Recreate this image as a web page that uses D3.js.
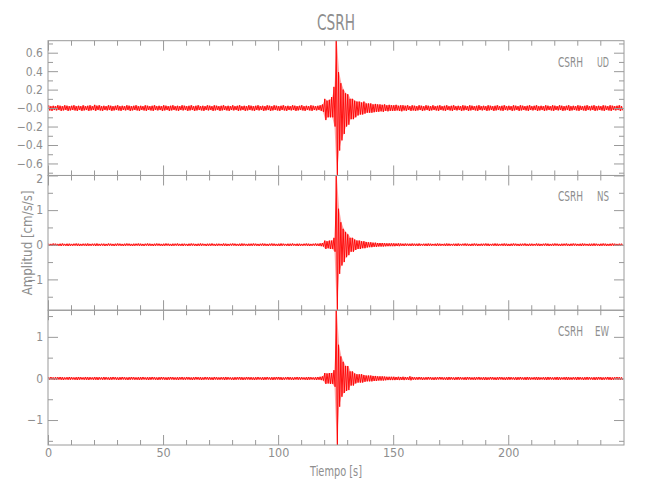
<!DOCTYPE html>
<html><head><meta charset="utf-8">
<script src="https://cdn.jsdelivr.net/npm/d3@7"></script>
<style>
body{margin:0;background:#fff}
text{font-family:'Liberation Sans Narrow','DejaVu Sans Condensed','Liberation Sans',sans-serif;font-stretch:condensed;fill:#8e8e8e}
</style>
</head><body>
<svg id="c" width="650" height="500"></svg>
<script>
// ---------- data (1-second bins starting at t = 0 s; per-bin max / min, cm/s/s) ----------
const station = "CSRH";
const components = ["UD","NS","EW"];

const udHi=[.03,.02,.025,.02,.03,.025,.02,.03,.025,.02,
.025,.03,.02,.025,.02,.03,.02,.025,.03,.02,
.035,.025,.03,.02,.025,.02,.03,.025,.02,.025,
.03,.02,.025,.02,.03,.025,.02,.025,.03,.02,
.025,.02,.03,.025,.02,.025,.03,.02,.025,.02,
.03,.025,.02,.025,.03,.02,.025,.02,.03,.025,
.02,.025,.03,.02,.025,.03,.02,.025,.02,.03,
.025,.02,.03,.025,.02,.025,.03,.02,.025,.02,
.03,.02,.025,.03,.02,.025,.02,.03,.025,.02,
.025,.03,.02,.025,.02,.03,.025,.02,.03,.025,
.02,.025,.03,.02,.025,.02,.03,.025,.02,.025,
.03,.02,.025,.02,.03,.025,.02,.025,.03,.04,
.1,.08,.09,.12,.23,.73,.39,.27,.2,.16,
.15,.1,.1,.08,.07,.07,.06,.07,.05,.05,
.05,.04,.045,.04,.04,.035,.04,.03,.035,.03,
.03,.035,.025,.03,.03,.025,.03,.02,.03,.025,
.02,.03,.025,.02,.03,.025,.02,.03,.02,.025,
.03,.02,.025,.03,.02,.025,.03,.02,.025,.02,
.03,.025,.02,.03,.025,.02,.025,.03,.02,.025,
.02,.03,.025,.02,.025,.03,.02,.025,.03,.02,
.025,.02,.03,.025,.02,.03,.025,.02,.025,.03,
.02,.025,.03,.02,.025,.02,.03,.025,.02,.03,
.025,.02,.03,.025,.02,.025,.03,.02,.025,.02,
.03,.025,.02,.025,.03,.02,.025,.03,.02,.025,
.02,.03,.025,.02,.03,.025,.02,.025,.03,.02];
const udLo=[-.025,-.03,-.02,-.025,-.02,-.03,-.025,-.02,-.03,-.025,
-.02,-.025,-.03,-.02,-.03,-.025,-.02,-.03,-.025,-.02,
-.03,-.02,-.025,-.03,-.02,-.025,-.02,-.03,-.025,-.02,
-.025,-.03,-.02,-.025,-.02,-.03,-.025,-.02,-.025,-.03,
-.02,-.025,-.03,-.02,-.025,-.03,-.02,-.025,-.02,-.03,
-.025,-.02,-.03,-.025,-.02,-.025,-.03,-.02,-.025,-.02,
-.03,-.025,-.02,-.03,-.025,-.02,-.025,-.03,-.02,-.025,
-.02,-.03,-.025,-.02,-.03,-.025,-.02,-.025,-.03,-.02,
-.025,-.02,-.03,-.025,-.02,-.03,-.025,-.02,-.025,-.03,
-.02,-.025,-.02,-.03,-.025,-.02,-.03,-.025,-.02,-.025,
-.03,-.02,-.025,-.03,-.02,-.025,-.02,-.03,-.025,-.02,
-.025,-.03,-.02,-.025,-.03,-.02,-.025,-.02,-.03,-.04,
-.13,-.1,-.1,-.1,-.2,-.73,-.46,-.35,-.28,-.2,
-.18,-.12,-.12,-.1,-.08,-.07,-.07,-.06,-.05,-.05,
-.05,-.045,-.04,-.04,-.035,-.04,-.03,-.035,-.03,-.03,
-.03,-.025,-.03,-.035,-.025,-.03,-.02,-.03,-.025,-.03,
-.025,-.02,-.03,-.025,-.02,-.03,-.025,-.02,-.025,-.03,
-.02,-.025,-.03,-.02,-.025,-.03,-.02,-.025,-.02,-.03,
-.025,-.02,-.03,-.025,-.02,-.025,-.03,-.02,-.025,-.02,
-.03,-.025,-.02,-.03,-.025,-.02,-.025,-.03,-.02,-.025,
-.02,-.03,-.025,-.02,-.03,-.025,-.02,-.025,-.03,-.02,
-.025,-.02,-.03,-.025,-.02,-.03,-.025,-.02,-.025,-.03,
-.02,-.025,-.02,-.03,-.025,-.02,-.03,-.025,-.02,-.025,
-.03,-.02,-.025,-.03,-.02,-.025,-.02,-.03,-.025,-.02,
-.025,-.03,-.02,-.025,-.03,-.02,-.025,-.02,-.03,-.025];

const nsHi=[.03,.025,.035,.03,.025,.03,.035,.025,.03,.03,
.025,.03,.035,.03,.025,.03,.03,.035,.025,.03,
.03,.035,.025,.03,.03,.025,.035,.03,.025,.03,
.035,.03,.025,.03,.035,.03,.025,.03,.03,.035,
.03,.025,.03,.035,.03,.025,.03,.035,.03,.025,
.03,.035,.03,.025,.03,.03,.035,.025,.03,.03,
.025,.03,.035,.03,.025,.03,.035,.03,.025,.03,
.03,.035,.025,.03,.03,.025,.035,.03,.025,.03,
.035,.03,.025,.03,.035,.03,.025,.03,.03,.035,
.03,.025,.03,.035,.03,.025,.03,.035,.03,.025,
.03,.035,.03,.025,.03,.03,.035,.025,.03,.03,
.025,.03,.035,.03,.025,.03,.035,.03,.04,.05,
.12,.1,.12,.12,.2,2.0,1.04,.65,.46,.37,
.3,.2,.2,.15,.12,.12,.1,.1,.08,.07,
.07,.06,.06,.05,.05,.05,.045,.04,.04,.04,
.04,.035,.04,.035,.03,.035,.03,.03,.035,.03,
.03,.035,.025,.03,.03,.035,.03,.025,.03,.035,
.03,.025,.03,.035,.03,.025,.03,.03,.035,.025,
.03,.035,.03,.025,.03,.035,.03,.025,.03,.03,
.035,.03,.025,.03,.035,.03,.025,.03,.035,.03,
.025,.03,.035,.03,.025,.03,.03,.035,.025,.03,
.03,.025,.035,.03,.025,.03,.035,.03,.025,.03,
.035,.03,.025,.03,.03,.035,.025,.03,.035,.03,
.025,.03,.035,.03,.025,.03,.03,.035,.03,.025,
.03,.035,.03,.025,.03,.035,.03,.025,.03,.03];
const nsLo=[-.03,-.035,-.025,-.03,-.03,-.035,-.025,-.03,-.035,-.03,
-.03,-.025,-.03,-.035,-.03,-.025,-.035,-.03,-.03,-.025,
-.035,-.03,-.03,-.025,-.035,-.03,-.025,-.03,-.035,-.03,
-.025,-.03,-.035,-.03,-.025,-.03,-.035,-.03,-.025,-.03,
-.03,-.035,-.025,-.03,-.03,-.035,-.03,-.025,-.03,-.035,
-.03,-.025,-.03,-.035,-.03,-.025,-.03,-.03,-.035,-.025,
-.035,-.03,-.025,-.03,-.035,-.03,-.03,-.025,-.035,-.03,
-.03,-.025,-.035,-.03,-.025,-.03,-.03,-.035,-.03,-.025,
-.025,-.03,-.03,-.035,-.03,-.025,-.035,-.03,-.03,-.025,
-.03,-.035,-.025,-.03,-.03,-.035,-.025,-.03,-.03,-.035,
-.035,-.03,-.025,-.03,-.035,-.03,-.025,-.03,-.035,-.03,
-.03,-.025,-.03,-.035,-.03,-.025,-.03,-.035,-.04,-.05,
-.12,-.1,-.12,-.12,-.2,-1.89,-.84,-.6,-.5,-.36,
-.3,-.2,-.2,-.15,-.12,-.12,-.1,-.1,-.08,-.07,
-.07,-.06,-.06,-.05,-.05,-.05,-.045,-.04,-.04,-.04,
-.04,-.035,-.04,-.03,-.035,-.03,-.03,-.035,-.03,-.03,
-.035,-.03,-.025,-.03,-.035,-.03,-.03,-.025,-.035,-.03,
-.03,-.025,-.035,-.03,-.03,-.025,-.03,-.035,-.03,-.025,
-.025,-.03,-.03,-.035,-.03,-.025,-.035,-.03,-.03,-.025,
-.03,-.035,-.025,-.03,-.03,-.035,-.025,-.03,-.03,-.035,
-.035,-.03,-.025,-.03,-.035,-.03,-.025,-.03,-.035,-.03,
-.03,-.025,-.03,-.035,-.03,-.025,-.03,-.035,-.03,-.03,
-.025,-.03,-.035,-.03,-.025,-.03,-.035,-.03,-.025,-.03,
-.03,-.035,-.03,-.025,-.03,-.035,-.03,-.03,-.025,-.035,
-.03,-.025,-.035,-.03,-.03,-.025,-.03,-.035,-.03,-.025];

const ewHi=[.03,.035,.025,.03,.03,.035,.03,.025,.03,.035,
.03,.025,.03,.035,.03,.025,.035,.03,.03,.025,
.035,.03,.03,.025,.035,.03,.025,.03,.035,.03,
.025,.03,.035,.03,.025,.03,.035,.03,.025,.03,
.03,.035,.025,.03,.03,.035,.03,.025,.03,.035,
.03,.025,.03,.035,.03,.025,.03,.03,.035,.025,
.035,.03,.025,.03,.035,.03,.03,.025,.035,.03,
.03,.025,.035,.03,.025,.03,.03,.035,.03,.025,
.025,.03,.03,.035,.03,.025,.035,.03,.03,.025,
.03,.035,.025,.03,.03,.035,.025,.03,.03,.035,
.035,.03,.025,.03,.035,.03,.025,.03,.035,.03,
.03,.025,.03,.035,.03,.025,.03,.035,.04,.05,
.13,.12,.13,.13,.2,1.64,.81,.53,.4,.3,
.3,.17,.17,.12,.1,.1,.1,.08,.07,.07,
.07,.06,.06,.05,.05,.05,.045,.04,.04,.04,
.04,.035,.04,.035,.04,.035,.03,.05,.035,.03,
.03,.035,.03,.025,.03,.035,.03,.025,.03,.03,
.035,.03,.025,.03,.035,.03,.025,.03,.035,.03,
.025,.03,.035,.03,.025,.03,.03,.035,.025,.03,
.03,.025,.035,.03,.025,.03,.035,.03,.025,.03,
.035,.03,.025,.03,.03,.035,.025,.03,.035,.03,
.025,.03,.035,.03,.025,.03,.03,.035,.03,.025,
.03,.035,.03,.025,.03,.035,.03,.025,.03,.03,
.035,.03,.025,.03,.035,.03,.025,.03,.03,.035,
.03,.025,.03,.035,.03,.025,.03,.035,.03,.025];
const ewLo=[-.03,-.025,-.035,-.03,-.025,-.03,-.035,-.025,-.03,-.03,
-.025,-.03,-.035,-.03,-.025,-.03,-.03,-.035,-.025,-.03,
-.03,-.035,-.025,-.03,-.03,-.025,-.035,-.03,-.025,-.03,
-.035,-.03,-.025,-.03,-.035,-.03,-.025,-.03,-.03,-.035,
-.03,-.025,-.03,-.035,-.03,-.025,-.03,-.035,-.03,-.025,
-.03,-.035,-.03,-.025,-.03,-.03,-.035,-.025,-.03,-.03,
-.025,-.03,-.035,-.03,-.025,-.03,-.035,-.03,-.025,-.03,
-.03,-.035,-.025,-.03,-.03,-.025,-.035,-.03,-.025,-.03,
-.035,-.03,-.025,-.03,-.035,-.03,-.025,-.03,-.03,-.035,
-.03,-.025,-.03,-.035,-.03,-.025,-.03,-.035,-.03,-.025,
-.03,-.035,-.03,-.025,-.03,-.03,-.035,-.025,-.03,-.03,
-.025,-.03,-.035,-.03,-.025,-.03,-.035,-.03,-.04,-.05,
-.13,-.12,-.13,-.13,-.2,-1.6,-.68,-.44,-.35,-.3,
-.28,-.17,-.17,-.12,-.1,-.1,-.1,-.08,-.07,-.07,
-.07,-.06,-.06,-.05,-.05,-.05,-.045,-.04,-.04,-.04,
-.04,-.035,-.04,-.035,-.04,-.03,-.035,-.045,-.03,-.03,
-.03,-.025,-.035,-.03,-.03,-.025,-.03,-.035,-.03,-.025,
-.025,-.03,-.03,-.035,-.03,-.025,-.035,-.03,-.03,-.025,
-.03,-.035,-.025,-.03,-.03,-.035,-.025,-.03,-.03,-.035,
-.035,-.03,-.025,-.03,-.035,-.03,-.025,-.03,-.035,-.03,
-.03,-.025,-.03,-.035,-.03,-.025,-.03,-.035,-.03,-.03,
-.025,-.03,-.035,-.03,-.025,-.03,-.035,-.03,-.025,-.03,
-.03,-.035,-.03,-.025,-.03,-.035,-.03,-.03,-.025,-.035,
-.03,-.025,-.035,-.03,-.03,-.025,-.03,-.035,-.03,-.025,
-.035,-.03,-.025,-.03,-.035,-.03,-.025,-.03,-.03,-.035];

// axis ticks and labels
const timeDomain=[0,250.3];
const xMajor=[0,50,100,150,200];
const xLabels=["0","50","100","150","200"];
const xMinor=[10,20,30,40,60,70,80,90,110,120,130,140,160,170,180,190,210,220,230,240];
const udMajor=[-0.6,-0.4,-0.2,0,0.2,0.4,0.6];
const udLabels=["\u22120.6","\u22120.4","\u22120.2","\u22120.0","0.2","0.4","0.6"];
const udMinor=[-0.7,-0.5,-0.3,-0.1,0.1,0.3,0.5,0.7];
const nsMajor=[-1,0,1,2];
const nsLabels=["\u22121","0","1","2"];
const nsMinor=[-1.5,-0.5,0.5,1.5];
const ewMajor=[-1,0,1];
const ewLabels=["\u22121","0","1"];
const ewMinor=[-1.5,-0.5,0.5,1.5];

const title="CSRH";
const xTitle="Tiempo [s]";
const yTitle="Amplitud [cm/s/s]";

// ---------- drawing ----------
const svg=d3.select("#c");
const L=48, R=624, T=40.7, B=445;
const panelH=(B-T)/3;
const x=d3.scaleLinear().domain(timeDomain).range([L,R]);
const axisColor="#9a9a9a";

const panels=[
 {comp:components[0],hi:udHi,lo:udLo,major:udMajor,labels:udLabels,minor:udMinor,cw:12},
 {comp:components[1],hi:nsHi,lo:nsLo,major:nsMajor,labels:nsLabels,minor:nsMinor,cw:12},
 {comp:components[2],hi:ewHi,lo:ewLo,major:ewMajor,labels:ewLabels,minor:ewMinor,cw:14}
];

function styleAxis(g){
  g.select(".domain").remove();
  g.selectAll(".tick line").attr("stroke",axisColor).attr("stroke-width",1);
  g.selectAll(".tick text").attr("fill","#8e8e8e").style("font-size","12px");
}

panels.forEach((p,k)=>{
  const top=T+k*panelH, bot=top+panelH;
  const y=d3.scaleLinear().domain([d3.min(p.lo),d3.max(p.hi)]).range([bot,top]);

  // envelope (per-bin max/min)
  const area=d3.area().x((d,i)=>x(i+0.5)).y0((d,i)=>y(p.lo[i])).y1(d=>y(d));
  svg.append("path").datum(p.hi).attr("d",area)
    .attr("fill","#ff0000").attr("fill-opacity",0.35).attr("stroke","none");
  // trace: alternating max/min per bin
  const pts=[];
  p.hi.forEach((h,i)=>{ pts.push([i+0.25,h]); pts.push([i+0.75,p.lo[i]]); });
  const line=d3.line().x(d=>x(d[0])).y(d=>y(d[1]));
  svg.append("path").datum(pts).attr("d",line)
    .attr("fill","none").attr("stroke","#ff0000").attr("stroke-width",0.9)
    .attr("stroke-linejoin","round");

  // left axis (labels) with inward ticks
  const gl=svg.append("g").attr("transform",`translate(${L},0)`)
    .call(d3.axisLeft(y).tickValues(p.major).tickFormat((d,i)=>p.labels[i]).tickSizeInner(-10).tickSizeOuter(0).tickPadding(5));
  styleAxis(gl);
  // label sitting exactly on the panel's top edge is nudged down a little
  gl.selectAll(".tick text").filter(d=>Math.abs(y(d)-top)<1).attr("dy","0.62em");
  const glm=svg.append("g").attr("transform",`translate(${L},0)`)
    .call(d3.axisLeft(y).tickValues(p.minor).tickFormat("").tickSizeInner(-5).tickSizeOuter(0));
  styleAxis(glm);
  // right axis
  const gr=svg.append("g").attr("transform",`translate(${R},0)`)
    .call(d3.axisRight(y).tickValues(p.major).tickFormat("").tickSizeInner(-10).tickSizeOuter(0));
  styleAxis(gr);
  const grm=svg.append("g").attr("transform",`translate(${R},0)`)
    .call(d3.axisRight(y).tickValues(p.minor).tickFormat("").tickSizeInner(-5).tickSizeOuter(0));
  styleAxis(grm);
  // top axis
  const gt=svg.append("g").attr("transform",`translate(0,${top})`)
    .call(d3.axisTop(x).tickValues(xMajor).tickFormat("").tickSizeInner(-10).tickSizeOuter(0));
  styleAxis(gt);
  const gtm=svg.append("g").attr("transform",`translate(0,${top})`)
    .call(d3.axisTop(x).tickValues(xMinor).tickFormat("").tickSizeInner(-5).tickSizeOuter(0));
  styleAxis(gtm);
  // bottom axis
  const last=k===panels.length-1;
  const gb=svg.append("g").attr("transform",`translate(0,${bot})`)
    .call(d3.axisBottom(x).tickValues(xMajor).tickFormat((d,i)=>last?xLabels[i]:"").tickSizeInner(-10).tickSizeOuter(0).tickPadding(3));
  styleAxis(gb);
  gb.selectAll(".tick text").style("font-size","12.5px");
  const gbm=svg.append("g").attr("transform",`translate(0,${bot})`)
    .call(d3.axisBottom(x).tickValues(xMinor).tickFormat("").tickSizeInner(-5).tickSizeOuter(0));
  styleAxis(gbm);

  // frame
  svg.append("rect").attr("x",L).attr("y",top).attr("width",R-L).attr("height",panelH)
    .attr("fill","none").attr("stroke",axisColor).attr("stroke-width",1);

  // panel label
  svg.append("text").attr("x",R-66).attr("y",top+26)
    .style("font-size","14px").attr("textLength",25).attr("lengthAdjust","spacingAndGlyphs").text(station);
  svg.append("text").attr("x",R-15-p.cw).attr("y",top+26)
    .style("font-size","14px").attr("textLength",p.cw).attr("lengthAdjust","spacingAndGlyphs").text(p.comp);
});

svg.append("text").attr("x",(L+R)/2).attr("y",30).attr("text-anchor","middle")
  .style("font-size","22px").attr("textLength",38).attr("lengthAdjust","spacingAndGlyphs").text(title);
svg.append("text").attr("x",(L+R)/2).attr("y",476).attr("text-anchor","middle")
  .style("font-size","14px").attr("textLength",52).attr("lengthAdjust","spacingAndGlyphs").text(xTitle);
svg.append("text").attr("transform",`translate(32,${(T+B)/2}) rotate(-90)`).attr("text-anchor","middle")
  .style("font-size","14px").attr("textLength",105).attr("lengthAdjust","spacingAndGlyphs").text(yTitle);
</script>
</body></html>
